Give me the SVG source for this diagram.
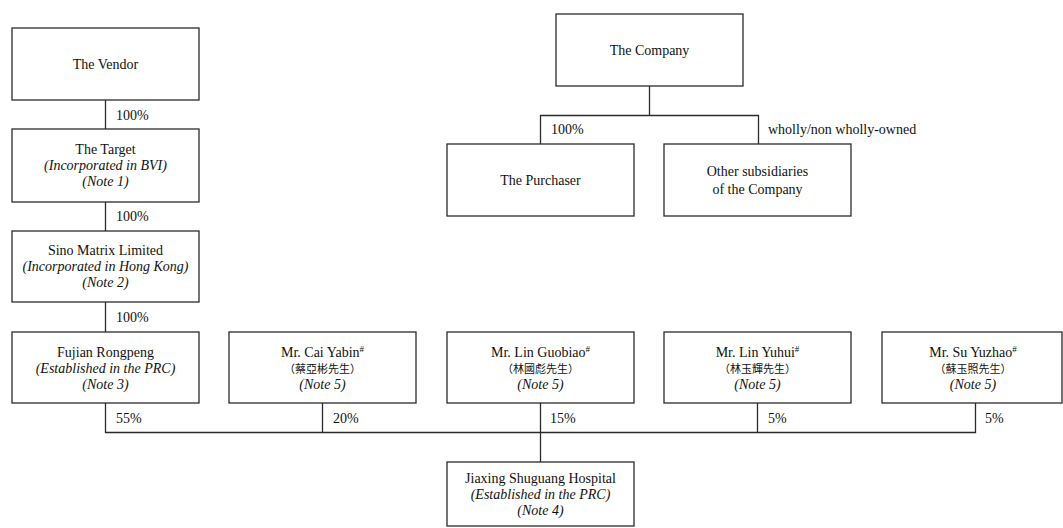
<svg xmlns="http://www.w3.org/2000/svg" width="1063" height="528" viewBox="0 0 1063 528">
<style>
.box{fill:#fff;stroke:#2b2b2b;stroke-width:1.3}
.ln{fill:none;stroke:#2b2b2b;stroke-width:1.3}
text{font-family:"Liberation Serif","Times New Roman",serif;font-size:14px;fill:#111}
.c{text-anchor:middle}
.i{font-style:italic}
.cjk{font-family:"Liberation Serif","Noto Sans CJK TC",serif;font-size:11px}
.sup{font-size:9px}
</style>
<rect width="1063" height="528" fill="#fff"/>
<g id="connectors">
<path class="ln" d="M105.5 100V129M105.5 202V231M105.5 302V332"/>
<path class="ln" d="M649.5 86V115.5M540.5 144V115.5H758.5V144"/>
<path class="ln" d="M105.5 403V432.5H975.5V403M322.5 403V432.5M540.5 403V462M757.5 403V432.5"/>
</g>
<g id="labels">
<text x="116" y="120">100%</text>
<text x="116" y="221">100%</text>
<text x="116" y="322">100%</text>
<text x="551" y="134">100%</text>
<text x="768" y="134">wholly/non wholly-owned</text>
<text x="116" y="423">55%</text>
<text x="333" y="423">20%</text>
<text x="550" y="423">15%</text>
<text x="768" y="423">5%</text>
<text x="985" y="423">5%</text>
</g>
<g id="vendor">
<rect class="box" x="12" y="28" width="187" height="72"/>
<text class="c" x="105.5" y="69">The Vendor</text>
</g>
<g id="target">
<rect class="box" x="12" y="129" width="187" height="73"/>
<text class="c" x="105.5" y="154">The Target</text>
<text class="c i" x="105.5" y="170">(Incorporated in BVI)</text>
<text class="c i" x="105.5" y="186">(Note 1)</text>
</g>
<g id="sino">
<rect class="box" x="12" y="231" width="187" height="71"/>
<text class="c" x="105.5" y="255">Sino Matrix Limited</text>
<text class="c i" x="105.5" y="271">(Incorporated in Hong Kong)</text>
<text class="c i" x="105.5" y="287">(Note 2)</text>
</g>
<g id="fujian">
<rect class="box" x="12" y="332" width="187" height="71"/>
<text class="c" x="105.5" y="357">Fujian Rongpeng</text>
<text class="c i" x="105.5" y="373">(Established in the PRC)</text>
<text class="c i" x="105.5" y="389">(Note 3)</text>
</g>
<g id="company">
<rect class="box" x="556" y="14" width="187" height="72"/>
<text class="c" x="649.5" y="55">The Company</text>
</g>
<g id="purchaser">
<rect class="box" x="447" y="144" width="187" height="72"/>
<text class="c" x="540.5" y="185">The Purchaser</text>
</g>
<g id="others">
<rect class="box" x="664" y="144" width="187" height="72"/>
<text class="c" x="757.5" y="176">Other subsidiaries</text>
<text class="c" x="757.5" y="194">of the Company</text>
</g>
<g id="cai">
<rect class="box" x="229" y="332" width="187" height="71"/>
<text class="c" x="322.5" y="357">Mr. Cai Yabin<tspan class="sup" dy="-5">#</tspan></text>
<text class="c cjk" x="322.5" y="373">（蔡亞彬先生）</text>
<text class="c i" x="322.5" y="389">(Note 5)</text>
</g>
<g id="linguobiao">
<rect class="box" x="447" y="332" width="187" height="71"/>
<text class="c" x="540.5" y="357">Mr. Lin Guobiao<tspan class="sup" dy="-5">#</tspan></text>
<text class="c cjk" x="540.5" y="373">（林國彪先生）</text>
<text class="c i" x="540.5" y="389">(Note 5)</text>
</g>
<g id="linyuhui">
<rect class="box" x="664" y="332" width="187" height="71"/>
<text class="c" x="757.5" y="357">Mr. Lin Yuhui<tspan class="sup" dy="-5">#</tspan></text>
<text class="c cjk" x="757.5" y="373">（林玉輝先生）</text>
<text class="c i" x="757.5" y="389">(Note 5)</text>
</g>
<g id="suyuzhao">
<rect class="box" x="882" y="332" width="180" height="71"/>
<text class="c" x="973" y="357">Mr. Su Yuzhao<tspan class="sup" dy="-5">#</tspan></text>
<text class="c cjk" x="973" y="373">（蘇玉照先生）</text>
<text class="c i" x="973" y="389">(Note 5)</text>
</g>
<g id="hospital">
<rect class="box" x="447" y="462" width="187" height="64"/>
<text class="c" x="540.5" y="483">Jiaxing Shuguang Hospital</text>
<text class="c i" x="540.5" y="499">(Established in the PRC)</text>
<text class="c i" x="540.5" y="515">(Note 4)</text>
</g>
</svg>
